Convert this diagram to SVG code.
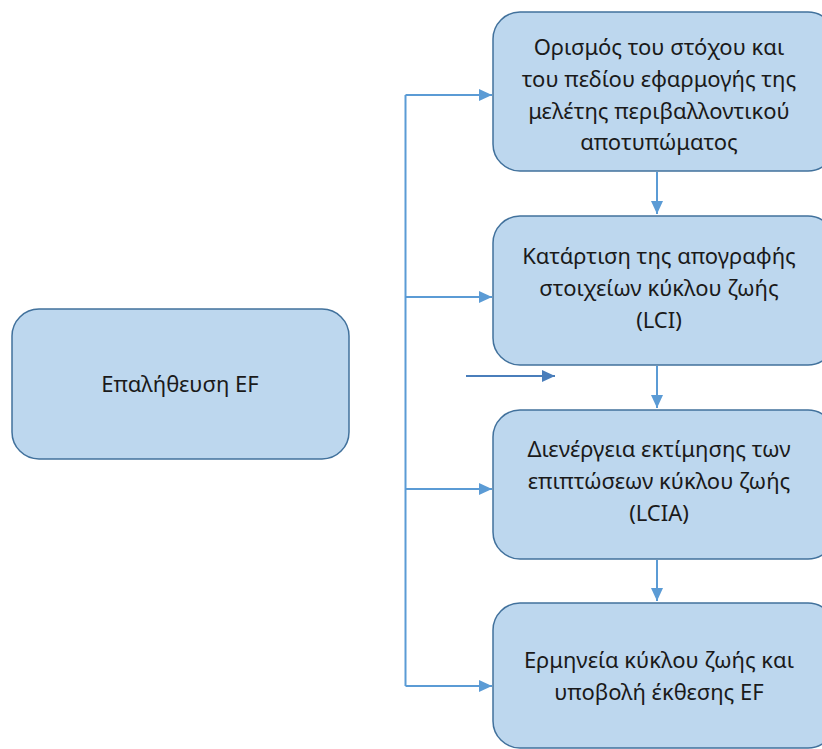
<svg xmlns="http://www.w3.org/2000/svg" width="822" height="749" viewBox="0 0 822 749">
<defs>
<style>
.box{fill:#bdd7ee;stroke:#41719c;stroke-width:1.5}
.t{font-family:"Noto Sans","Liberation Sans",sans-serif;font-size:22px;fill:#1a1a1a;text-anchor:middle}
.c{fill:none;stroke:#5b9bd5;stroke-width:2}
</style>
<marker id="ah" markerWidth="14" markerHeight="14" refX="13" refY="7" orient="auto" markerUnits="userSpaceOnUse">
<path d="M0,1 L13,7 L0,13 z" fill="#5b9bd5"/>
</marker>
<marker id="ah2" markerWidth="14" markerHeight="14" refX="13" refY="7" orient="auto" markerUnits="userSpaceOnUse">
<path d="M0,1 L13,7 L0,13 z" fill="#4a7ebb"/>
</marker>
</defs>
<g id="connectors">
<path class="c" d="M405.5,95 V686"/>
<path class="c" d="M405.5,95 H492" marker-end="url(#ah)"/>
<path class="c" d="M405.5,297 H492" marker-end="url(#ah)"/>
<path class="c" d="M405.5,489 H492" marker-end="url(#ah)"/>
<path class="c" d="M405.5,686 H492" marker-end="url(#ah)"/>
<path class="c" d="M657,172 V214" marker-end="url(#ah)"/>
<path class="c" d="M657,366 V408" marker-end="url(#ah)"/>
<path class="c" d="M657,560 V601" marker-end="url(#ah)"/>
<path d="M466,376 H555" fill="none" stroke="#4a7ebb" stroke-width="2" marker-end="url(#ah2)"/>
</g>
<g id="verify">
<rect class="box" x="12" y="309" width="337" height="150" rx="27"/>
<text class="t" x="180" y="392">Επαλήθευση EF</text>
</g>
<g id="goal">
<rect class="box" x="493" y="12" width="342" height="159" rx="27"/>
<text class="t" x="659" y="55">Ορισμός του στόχου και</text>
<text class="t" x="659" y="87">του πεδίου εφαρμογής της</text>
<text class="t" x="659" y="119">μελέτης περιβαλλοντικού</text>
<text class="t" x="659" y="150">αποτυπώματος</text>
</g>
<g id="lci">
<rect class="box" x="493" y="216" width="342" height="149" rx="27"/>
<text class="t" x="659" y="264">Κατάρτιση της απογραφής</text>
<text class="t" x="659" y="296">στοιχείων κύκλου ζωής</text>
<text class="t" x="659" y="328">(LCI)</text>
</g>
<g id="lcia">
<rect class="box" x="493" y="410" width="342" height="149" rx="27"/>
<text class="t" x="659" y="457">Διενέργεια εκτίμησης των</text>
<text class="t" x="659" y="489">επιπτώσεων κύκλου ζωής</text>
<text class="t" x="659" y="521">(LCIA)</text>
</g>
<g id="interpret">
<rect class="box" x="493" y="603" width="342" height="145" rx="27"/>
<text class="t" x="659" y="668">Ερμηνεία κύκλου ζωής και</text>
<text class="t" x="659" y="700">υποβολή έκθεσης EF</text>
</g>
</svg>
